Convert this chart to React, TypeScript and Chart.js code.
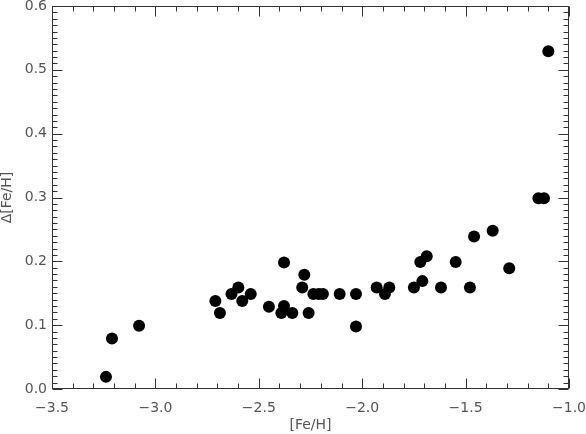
import React, { useEffect, useRef } from "react";
import { Chart, registerables } from "chart.js";

Chart.register(...registerables);

const feH: number[] = [
  -3.239, -3.21, -3.079, -2.71, -2.688, -2.632, -2.599, -2.58, -2.539, -2.451,
  -2.378, -2.378, -2.391, -2.338, -2.28, -2.29, -2.259, -2.236, -2.21, -2.19,
  -2.109, -2.03, -2.03, -1.93, -1.89, -1.869, -1.75, -1.719, -1.709, -1.688,
  -1.619, -1.548, -1.479, -1.459, -1.369, -1.289, -1.148, -1.121, -1.1,
];
const deltaFeH: number[] = [
  0.019, 0.079, 0.099, 0.138, 0.119, 0.149, 0.159, 0.138, 0.149, 0.129,
  0.198, 0.13, 0.119, 0.119, 0.179, 0.159, 0.119, 0.149, 0.149, 0.149,
  0.149, 0.149, 0.098, 0.159, 0.149, 0.159, 0.159, 0.199, 0.169, 0.208,
  0.159, 0.199, 0.159, 0.239, 0.248, 0.189, 0.299, 0.299, 0.529,
];

const xMin = -3.5, xMax = -1.0, xMajor = 0.5, xMinor = 0.1;
const yMin = 0, yMax = 0.6, yMajor = 0.1, yMinor = 0.01;

const labelFont = { family: "'DejaVu Sans', sans-serif", size: 14 };
const textColor = "#555";
const axisColor = "#333";

const fmt = (v: number) => (v < 0 ? "\u2212" : "") + Math.abs(v).toFixed(1);

const framePlugin = {
  id: "frameTicks",
  afterDraw(chart: any) {
    const { ctx, chartArea } = chart;
    const xs = chart.scales.x;
    const ys = chart.scales.y;
    const L = Math.round(chartArea.left) + 0.5;
    const R = Math.round(chartArea.right) - 0.5;
    const T = Math.round(chartArea.top) + 0.5;
    const B = Math.round(chartArea.bottom) - 0.5;
    ctx.save();
    ctx.strokeStyle = axisColor;
    ctx.lineWidth = 1;
    ctx.strokeRect(L, T, R - L, B - T);
    ctx.beginPath();
    const nx = Math.round((xMax - xMin) / xMinor);
    for (let i = 0; i <= nx; i++) {
      const v = xMin + i * xMinor;
      const major = i % Math.round(xMajor / xMinor) === 0;
      const len = major ? 10 : 5;
      const px = Math.round(xs.getPixelForValue(v)) + 0.5;
      ctx.moveTo(px, B);
      ctx.lineTo(px, B - len);
      ctx.moveTo(px, T);
      ctx.lineTo(px, T + len);
    }
    const ny = Math.round((yMax - yMin) / yMinor);
    for (let i = 0; i <= ny; i++) {
      const v = yMin + i * yMinor;
      const major = i % Math.round(yMajor / yMinor) === 0;
      const len = major ? 10 : 5;
      const py = Math.round(ys.getPixelForValue(v)) + 0.5;
      ctx.moveTo(L, py);
      ctx.lineTo(L + len, py);
      ctx.moveTo(R, py);
      ctx.lineTo(R - len, py);
    }
    ctx.stroke();
    ctx.restore();
  },
};

const zeroPad = (s: any) => {
  s.paddingTop = 0;
  s.paddingBottom = 0;
  s.paddingLeft = 0;
  s.paddingRight = 0;
};

export default function App() {
  const ref = useRef<HTMLCanvasElement | null>(null);
  useEffect(() => {
    if (!ref.current) return;
    const chart = new Chart(ref.current, {
      type: "scatter",
      data: {
        datasets: [
          {
            data: feH.map((x, i) => ({ x, y: deltaFeH[i] })),
            backgroundColor: "#000",
            borderWidth: 0,
            pointRadius: 6,
            pointHoverRadius: 6,
          },
        ],
      },
      options: {
        animation: false,
        responsive: false,
        devicePixelRatio: 1,
        layout: { padding: { top: 0, right: 17, bottom: 0, left: 0 } },
        plugins: { legend: { display: false }, tooltip: { enabled: false } },
        scales: {
          x: {
            type: "linear",
            min: xMin,
            max: xMax,
            grid: { display: false, drawTicks: false },
            border: { display: false },
            ticks: {
              stepSize: xMajor,
              padding: 11,
              color: textColor,
              font: labelFont,
              maxRotation: 0,
              callback: (v: any) => fmt(Number(v)),
            },
            title: {
              display: true,
              text: "[Fe/H]",
              color: textColor,
              font: labelFont,
              padding: { top: 2, bottom: 0 },
            },
            afterFit: (s: any) => {
              s.height = 45;
              zeroPad(s);
            },
          },
          y: {
            type: "linear",
            min: yMin,
            max: yMax,
            grid: { display: false, drawTicks: false },
            border: { display: false },
            ticks: {
              stepSize: yMajor,
              padding: 5,
              color: textColor,
              font: labelFont,
              callback: (v: any) => fmt(Number(v)),
            },
            title: {
              display: true,
              text: "\u0394[Fe/H]",
              color: textColor,
              font: labelFont,
              padding: { top: -1, bottom: 0 },
            },
            afterFit: (s: any) => {
              s.width = 52;
              zeroPad(s);
            },
          },
        },
      },
      plugins: [framePlugin],
    });
    return () => chart.destroy();
  }, []);
  return (
    <div style={{ position: "fixed", left: 0, top: 0, width: 586, height: 434, background: "#fff" }}>
      <canvas ref={ref} width={586} height={434} style={{ width: 586, height: 434, display: "block" }} />
    </div>
  );
}
